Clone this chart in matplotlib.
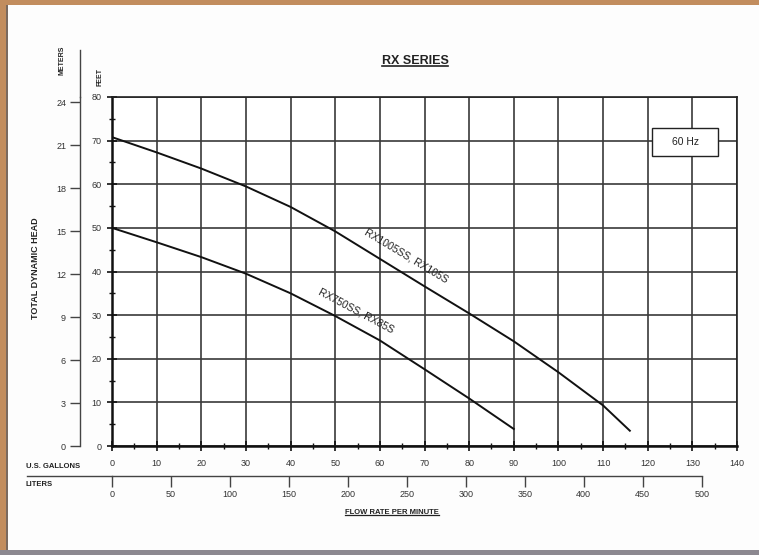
import matplotlib
matplotlib.use('Agg')
import matplotlib.pyplot as plt
from matplotlib.patches import Rectangle
from matplotlib.lines import Line2D
from matplotlib.ticker import MultipleLocator

plt.rcParams['font.family'] = ['Liberation Sans', 'DejaVu Sans']

# pump curves (flow in US gpm, head in feet)
big_gpm = [0, 10, 20, 30, 40, 50, 60, 70, 80, 90, 100, 110, 116]
big_ft = [70.8, 67.3, 63.6, 59.5, 54.8, 49.2, 42.9, 36.6, 30.4, 24.0, 16.9, 9.3, 3.5]
small_gpm = [0, 10, 20, 30, 40, 50, 60, 70, 80, 90]
small_ft = [50.0, 46.7, 43.3, 39.5, 35.0, 29.8, 24.2, 17.6, 10.9, 3.9]
big_name = 'RX1005SS, RX105S'
small_name = 'RX750SS, RX85S'

gpm_ticks = list(range(0, 141, 10))
ft_ticks = list(range(0, 81, 10))
m_ticks = list(range(0, 25, 3))
liter_ticks = list(range(0, 501, 50))

FT_PER_M = 3.28084
L_PER_GAL = 3.78541


def underlined(fig, x, y, s, size, lw):
    '''Figure text with a line drawn right under it.'''
    t = fig.text(x, y, s, ha='center', va='center', fontsize=size,
                 fontweight='bold', color='#222222')
    fig.canvas.draw()
    bb = t.get_window_extent().transformed(fig.transFigure.inverted())
    fig.add_artist(Line2D([bb.x0, bb.x1], [bb.y0 + 0.001, bb.y0 + 0.001],
                          transform=fig.transFigure, color='#222222', lw=lw))


def main():
    fig = plt.figure(figsize=(7.59, 5.55), dpi=100, facecolor='#fdfdfd')
    W, H = 759.0, 555.0
    ax = fig.add_axes([112 / W, 1 - 446 / H, 625 / W, 349 / H])
    ax.set_facecolor('white')
    ax.set_xlim(0, 140)
    ax.set_ylim(0, 80)

    ax.plot(big_gpm, big_ft, color='#111111', lw=1.4, zorder=3)
    ax.plot(small_gpm, small_ft, color='#111111', lw=1.4, zorder=3)

    # grid + frame
    ax.set_xticks(gpm_ticks)
    ax.set_yticks(ft_ticks)
    ax.xaxis.set_minor_locator(MultipleLocator(5))
    ax.yaxis.set_minor_locator(MultipleLocator(5))
    ax.grid(True, which='major', color='#3a3a3a', lw=1.2)
    ax.set_axisbelow(True)
    for s in ['top', 'right']:
        ax.spines[s].set_linewidth(1.2)
        ax.spines[s].set_color('#222222')
    for s in ['left', 'bottom']:
        ax.spines[s].set_linewidth(1.8)
        ax.spines[s].set_color('#111111')
    ax.tick_params(which='major', direction='inout', length=7, width=1.2,
                   labelsize=6.5, labelcolor='#333333', color='#111111')
    ax.tick_params(which='minor', direction='inout', length=4, width=1.0,
                   color='#111111')
    ax.tick_params(axis='x', which='major', pad=6)
    ax.tick_params(axis='y', which='major', pad=4)

    # meters axis on the far left
    sec_y = ax.secondary_yaxis(-32 / 625, functions=(lambda f: f / FT_PER_M,
                                                     lambda m: m * FT_PER_M))
    sec_y.set_yticks(m_ticks)
    sec_y.spines['left'].set_color('#444444')
    sec_y.spines['left'].set_linewidth(1.0)
    sec_y.tick_params(direction='out', length=7, width=1.0, labelsize=6.5,
                      labelcolor='#333333', color='#444444', pad=3)
    ax.plot([-32 / 625, -32 / 625], [1.0, 1.135], transform=ax.transAxes,
            color='#444444', lw=1.0, clip_on=False)

    # liters axis under the gallons axis
    sec_x = ax.secondary_xaxis(-30 / 349, functions=(lambda g: g * L_PER_GAL,
                                                     lambda l: l / L_PER_GAL))
    sec_x.set_xticks(liter_ticks)
    sec_x.spines['bottom'].set_bounds(0, 500)
    sec_x.spines['bottom'].set_color('#444444')
    sec_x.spines['bottom'].set_linewidth(1.0)
    sec_x.tick_params(direction='out', length=8, width=1.0, labelsize=6.5,
                      labelcolor='#333333', color='#444444', pad=2)
    ax.plot([-85 / 625, 0], [-30 / 349, -30 / 349], transform=ax.transAxes,
            color='#444444', lw=1.0, clip_on=False)

    # curve names
    ax.text(66, 43.5, big_name, rotation=-31, ha='center', va='center',
            fontsize=7.5, color='#222222', zorder=4)
    ax.text(54.8, 31.0, small_name, rotation=-28, ha='center', va='center',
            fontsize=7.5, color='#222222', zorder=4)

    # 60 Hz box
    ax.add_patch(Rectangle((540 / 625, 290 / 349), 66 / 625, 28 / 349,
                           transform=ax.transAxes, facecolor='white',
                           edgecolor='#222222', lw=1.0, zorder=5))
    ax.text(573 / 625, 304 / 349, '60 Hz', transform=ax.transAxes,
            ha='center', va='center', fontsize=7.5, color='#222222', zorder=6)

    # titles and axis names
    underlined(fig, 415 / W, 1 - 61 / H, 'RX SERIES', 9, 1.2)
    underlined(fig, 392 / W, 1 - 512 / H, 'FLOW RATE PER MINUTE', 5.5, 0.9)
    fig.text(36 / W, 1 - 268 / H, 'TOTAL DYNAMIC HEAD', rotation=90,
             ha='center', va='center', fontsize=6.5, fontweight='bold',
             color='#222222')
    fig.text(62 / W, 1 - 60 / H, 'METERS', rotation=90, ha='center',
             va='center', fontsize=5, fontweight='bold', color='#222222')
    fig.text(100 / W, 1 - 77 / H, 'FEET', rotation=90, ha='center',
             va='center', fontsize=5, fontweight='bold', color='#222222')
    fig.text(26 / W, 1 - 466 / H, 'U.S. GALLONS', ha='left', va='center',
             fontsize=5.5, fontweight='bold', color='#222222')
    fig.text(26 / W, 1 - 484 / H, 'LITERS', ha='left', va='center',
             fontsize=5.5, fontweight='bold', color='#222222')

    # photo frame edges
    fig.patches.append(Rectangle((0, 0), 7 / W, 1, transform=fig.transFigure,
                                 facecolor='#c28d5e', edgecolor='none'))
    fig.patches.append(Rectangle((6 / W, 0), 2 / W, 1, transform=fig.transFigure,
                                 facecolor='#7a6a60', edgecolor='none'))
    fig.patches.append(Rectangle((0, 1 - 5 / H), 1, 5 / H, transform=fig.transFigure,
                                 facecolor='#c28d5e', edgecolor='none'))
    fig.patches.append(Rectangle((0, 0), 1, 5 / H, transform=fig.transFigure,
                                 facecolor='#8c8890', edgecolor='none'))

    fig.savefig('out.png', dpi=100, facecolor=fig.get_facecolor())


if __name__ == '__main__':
    main()
